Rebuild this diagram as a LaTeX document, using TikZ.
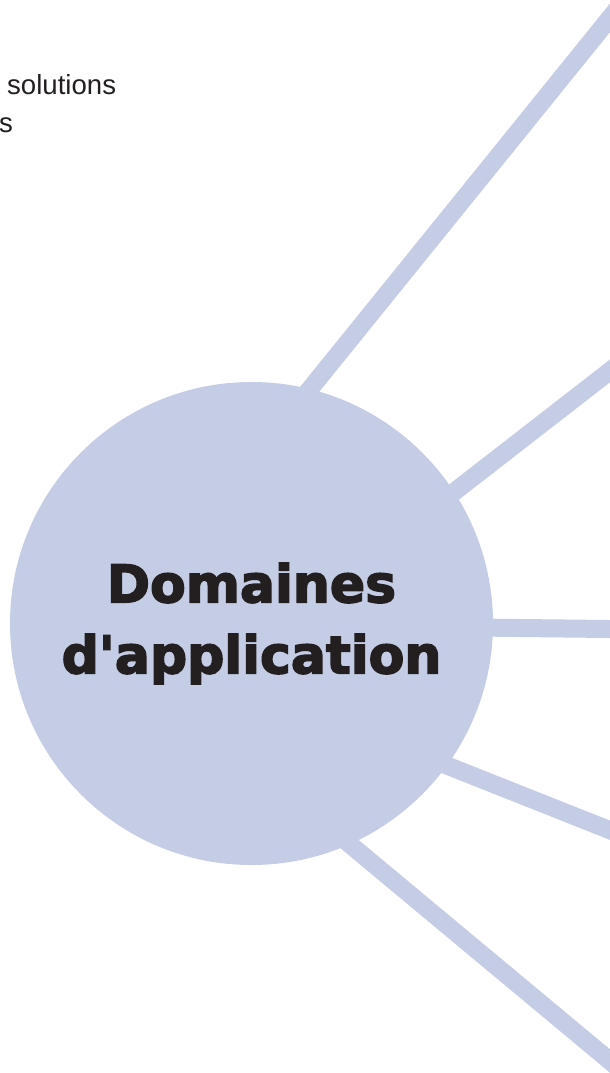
\documentclass[tikz,border=0pt]{standalone}
\usepackage{fontspec}
\setmainfont{Liberation Sans}
\newfontfamily\heavyfont[FakeBold=3]{DejaVu Sans Bold}
\usetikzlibrary{backgrounds}
\definecolor{bulle}{RGB}{196,205,229}
\definecolor{encre}{RGB}{35,31,32}
\begin{document}
\begin{tikzpicture}[x=1pt,y=-1pt,
    branche/.style={draw=bulle,line width=18pt,shorten <=-24pt},
    titre/.style={font=\heavyfont\fontsize{52}{71}\selectfont,text=encre,align=center},
    reste/.style={font=\fontsize{27.6}{33}\selectfont,text=encre,inner sep=0pt}]
    \useasboundingbox (0,0) rectangle (610,1073);
    \node (domaines) at (251.5,623.5) [shape=circle,fill=bulle,inner sep=0pt,minimum size=483pt,titre] {Domaines\\d'application};
    \node (solutions) at (7,94) [anchor=base west,reste] {solutions};
    \node (lettre) at (-1,132) [anchor=base west,reste] {s};
    \coordinate (bout1) at (702,-96);
    \coordinate (bout2) at (700,301);
    \coordinate (bout3) at (700,630);
    \coordinate (bout4) at (700,866);
    \coordinate (bout5) at (700,1136);
    \begin{scope}[on background layer]
        \clip (0,0) rectangle (610,1073);
        \draw[branche] (domaines.76)--(bout1);
        \draw[branche] (domaines.33)--(bout2);
        \draw[branche] (domaines.-1.5)--(bout3);
        \draw[branche] (domaines.-36)--(bout4);
        \draw[branche] (domaines.-66.4)--(bout5);
    \end{scope}
\end{tikzpicture}
\end{document}
